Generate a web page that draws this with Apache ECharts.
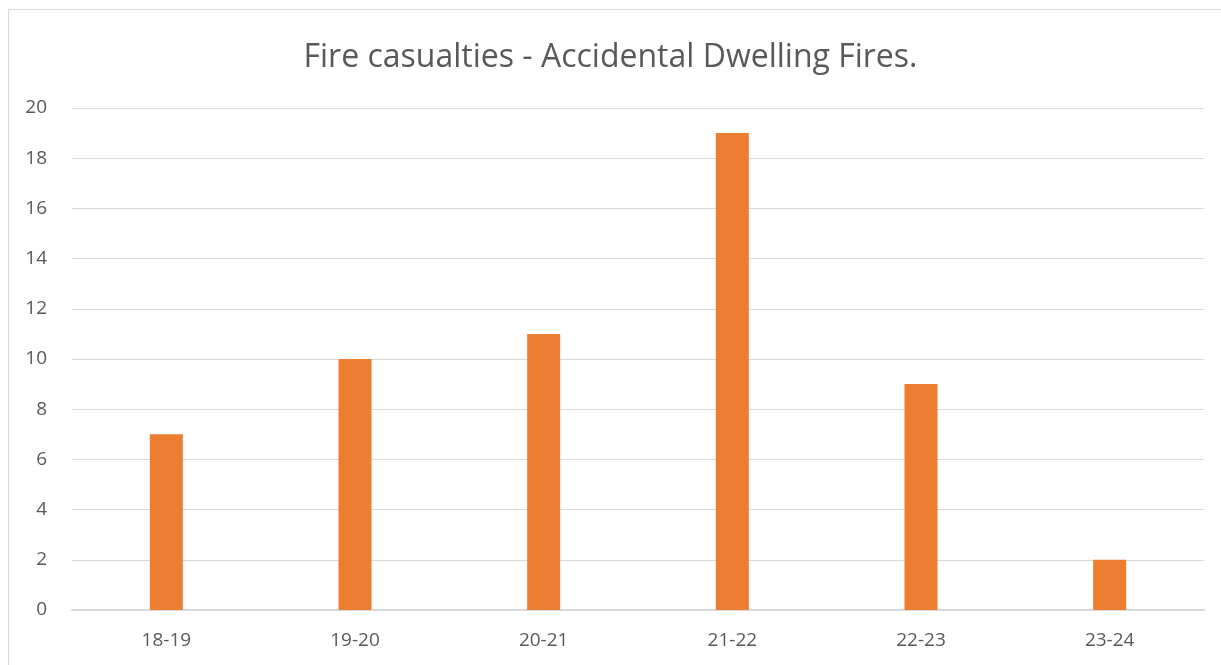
<!DOCTYPE html>
<html>
<head>
<meta charset="utf-8">
<script src="https://cdn.jsdelivr.net/npm/echarts@6/dist/echarts.min.js"></script>
<style>
    html, body { margin: 0; padding: 0; background: #fff; }
    #frame { position: absolute; left: 8px; top: 9px; width: 1230px; height: 680px; border: 1px solid #d9d9d9; box-sizing: border-box; }
    #chart { position: absolute; left: 0; top: 0; width: 1221px; height: 665px; }
</style>
</head>
<body>
<div id="frame"></div>
<div id="chart"></div>
<script>
    var categories = ['18-19', '19-20', '20-21', '21-22', '22-23', '23-24'];
    var casualties = [7, 10, 11, 19, 9, 2];

    var myChart = echarts.init(document.getElementById('chart'));
    var option = {
        animation: false,
        title: {
            text: 'Fire casualties - Accidental Dwelling Fires.',
            left: 'center',
            top: 37,
            textStyle: {
                color: '#595959',
                fontFamily: 'Open Sans',
                fontSize: 32,
                fontWeight: 'normal'
            }
        },
        grid: {
            left: 72,
            right: 17,
            top: 108,
            bottom: 55
        },
        xAxis: {
            type: 'category',
            data: categories,
            axisLine: { lineStyle: { color: '#d9d9d9', width: 2 } },
            axisTick: { show: false },
            axisLabel: {
                color: '#595959',
                fontFamily: 'Open Sans',
                fontSize: 19,
                margin: 21
            }
        },
        yAxis: {
            type: 'value',
            min: 0,
            max: 20,
            interval: 2,
            axisLine: { show: false },
            axisTick: { show: false },
            splitLine: { lineStyle: { color: '#d9d9d9', width: 1 } },
            axisLabel: {
                color: '#595959',
                fontFamily: 'Open Sans',
                fontSize: 19,
                margin: 25
            }
        },
        series: [
            {
                type: 'bar',
                data: casualties,
                barWidth: 33,
                itemStyle: { color: '#ed7d31' }
            }
        ]
    };
    myChart.setOption(option);
</script>
</body>
</html>
